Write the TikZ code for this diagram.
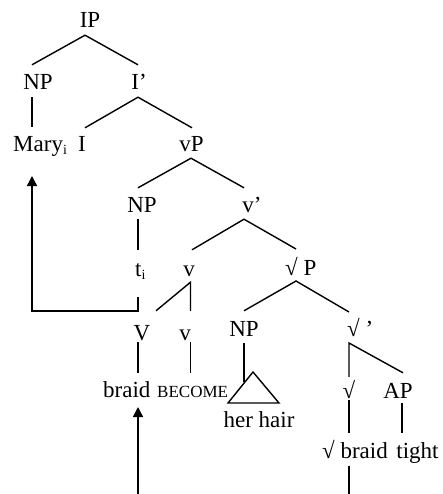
\documentclass[tikz,border=0pt]{standalone}
\usepackage{fontspec}
\setmainfont{Liberation Serif}
\usetikzlibrary{arrows.meta,calc}
\newcommand\subi{{\fontsize{14}{14}\selectfont\raisebox{-3pt}{i}}}
\begin{document}
\begin{tikzpicture}[x=1pt,y=-1pt,
  lbl/.style={anchor=base,font=\fontsize{23}{23}\selectfont,text height=18pt,text depth=0pt,inner xsep=0pt,inner ysep=7pt},
  br/.style={line width=1.4pt},
  mv/.style={line width=1.4pt,-{Triangle[width=10pt,length=10pt]}}]
\useasboundingbox (0,0) rectangle (442,494);
% labels
\node[lbl] (ip) at (90,28) {IP};
\node[lbl] (np1) at (38,90) {NP};
\node[lbl] (ibar) at (139,90) {I’};
\node[lbl,anchor=base west] (mary) at (13,152) {Mary\subi};
\node[lbl] (i) at (82,152) {I};
\node[lbl] (vp) at (191.5,152) {vP};
\node[lbl] (np2) at (142,212) {NP};
\node[lbl] (vbar) at (252,212) {v’};
\node[lbl,anchor=base west] (ti) at (135,276) {t\subi};
\node[lbl] (v1) at (189,276) {v};
\node[lbl,anchor=base west] (rootp) at (285,275) {√ P};
\node[lbl] (V) at (142,340) {V};
\node[lbl] (v2) at (185,340) {v};
\node[lbl] (np3) at (244,336) {NP};
\node[lbl,anchor=base west] (rootbar) at (347,336) {√ ’};
\node[lbl,anchor=base west] (braid) at (103,397) {braid};
\node[lbl,anchor=base west,font=\fontsize{17}{17}\selectfont] (become) at (157,397) {BECOME};
\node[lbl] (root) at (349,398) {√};
\node[lbl] (ap) at (398,398) {AP};
\node[lbl] (herhair) at (259,427) {her hair};
\node[lbl,anchor=base west] (rootbraid) at (322,458) {√ braid};
\node[lbl] (tight) at (417.5,458) {tight};
% branches
\draw[br] ($(np1.north)+(-6,0)$) -- ($(ip.south)+(-5,0)$) -- ($(ibar.north)+(-1,0)$);
\draw[br] ($(np1.south)+(-6,0)$) -- ($(mary.base west)+(19,-25)$);
\draw[br] ($(i.north)+(3,1)$) -- ($(ibar.south)+(-1,0)$) -- ($(vp.north)+(0.5,1)$);
\draw[br] ($(np2.north)+(-4,1)$) -- ($(vp.south)+(-0.5,-1)$) -- ($(vbar.north)+(-8,1)$);
\draw[br] ($(np2.south)+(-4,0)$) -- ($(ti.base west)+(3,-26)$);
\draw[br] ($(v1.north)+(3,-1)$) -- ($(vbar.south)+(-8,0)$) -- ($(rootp.base west)+(11,-26)$);
\draw[mv] ($(ti.base west)+(3,21)$) -- ++(0,14) -| ($(mary.base west)+(19,24)$);
\draw[br] ($(V.north)+(14,-4)$) -- ($(v1.south)+(1.5,-1)$) -- ($(v2.north)+(5.5,-4)$);
\draw[br] (np3.north) -- ($(rootp.base west)+(11,6)$) -- ($(rootbar.base west)+(2,-24)$);
\draw[br] ($(V.south)+(-4,-5)$) -- ($(braid.base west)+(35,-24)$);
\draw[br] ($(v2.south)+(5.5,-5)$) -- ($(become.base west)+(33.5,-24)$);
\draw[br] (np3.south) -- ++(0,39);
\draw[br] ($(herhair.base)+(-6,-55)$) -- ++(-25,31) -- ++(51,0) -- cycle;
\draw[br] ($(root.north)+(0,4)$) -- ($(rootbar.base west)+(2,7)$) -- ($(ap.north)+(5,0)$);
\draw[br] ($(root.south)+(0,-5)$) -- ($(rootbraid.base west)+(27,-25)$);
\draw[br] ($(ap.south)+(4,-2)$) -- ($(tight.north)+(-15.5,0)$);
\draw[br] ($(rootbraid.base west)+(27,8)$) -- ++(0,30);
\draw[mv] ($(braid.base west)+(35,98)$) -- ($(braid.base west)+(35,10)$);
\end{tikzpicture}
\end{document}
